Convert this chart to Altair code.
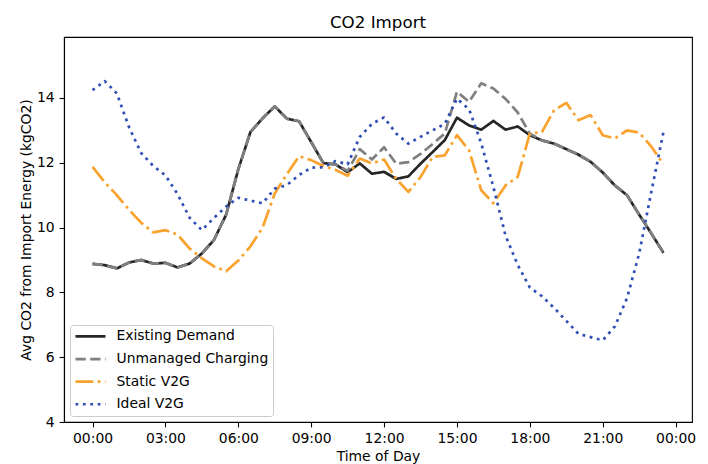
import altair as alt
import pandas as pd

# half-hour time points (hours of the day)
hours = [i * 0.5 for i in range(48)]

existing_demand = [8.88, 8.84, 8.74, 8.92, 9.00, 8.89, 8.91, 8.77, 8.89, 9.20,
                   9.62, 10.40, 11.80, 12.95, 13.37, 13.74, 13.36, 13.28, 12.64, 11.99,
                   11.95, 11.71, 11.98, 11.66, 11.72, 11.50, 11.58, 11.97, 12.33, 12.70,
                   13.39, 13.15, 13.02, 13.29, 13.02, 13.12, 12.85, 12.69, 12.59, 12.42,
                   12.25, 12.03, 11.70, 11.30, 11.00, 10.40, 9.82, 9.22]

unmanaged_charging = [8.88, 8.84, 8.74, 8.92, 9.00, 8.89, 8.91, 8.77, 8.89, 9.20,
                      9.62, 10.40, 11.80, 12.95, 13.37, 13.74, 13.36, 13.28, 12.64, 11.99,
                      11.95, 11.75, 12.42, 12.10, 12.48, 11.97, 12.02, 12.27, 12.58, 12.90,
                      14.19, 13.88, 14.45, 14.29, 13.97, 13.55, 12.90, 12.69, 12.59, 12.42,
                      12.25, 12.03, 11.70, 11.30, 11.00, 10.40, 9.82, 9.22]

static_v2g = [11.87, 11.40, 11.00, 10.55, 10.15, 9.85, 9.92, 9.78, 9.35, 9.05,
              8.80, 8.65, 8.98, 9.42, 10.00, 11.05, 11.65, 12.20, 12.08, 11.90,
              11.78, 11.60, 12.13, 11.98, 12.10, 11.50, 11.10, 11.56, 12.18, 12.23,
              12.85, 12.38, 11.15, 10.75, 11.30, 11.56, 12.90, 12.95, 13.62, 13.85,
              13.31, 13.47, 12.85, 12.75, 13.00, 12.93, 12.50, 11.95]

ideal_v2g = [14.24, 14.52, 14.14, 13.10, 12.30, 11.90, 11.61, 11.03, 10.30, 9.92,
             10.30, 10.65, 10.92, 10.83, 10.75, 11.20, 11.31, 11.62, 11.85, 11.86,
             12.05, 11.95, 12.80, 13.20, 13.40, 12.90, 12.59, 12.80, 13.00, 13.20,
             13.98, 13.65, 12.60, 11.25, 9.75, 8.85, 8.15, 7.88, 7.52, 7.12,
             6.72, 6.62, 6.52, 6.95, 7.82, 9.20, 11.10, 12.95]

series_names = ["Existing Demand", "Unmanaged Charging", "Static V2G", "Ideal V2G"]
series_values = [existing_demand, unmanaged_charging, static_v2g, ideal_v2g]
series_colors = ["#262626", "#808080", "#f9a22e", "#2f4fb4"]
series_dashes = [[1, 0], [10.3, 4.4], [17.8, 4.4, 2.8, 4.4], [2.8, 4.6]]

x_ticks = [0, 3, 6, 9, 12, 15, 18, 21, 24]
y_ticks = [4, 6, 8, 10, 12, 14]

rows = []
for name, vals in zip(series_names, series_values):
    for h, v in zip(hours, vals):
        rows.append({"series": name, "hour": h, "value": v})
df = pd.DataFrame(rows)

FONT = "DejaVu Sans"

legend = alt.Legend(
    title=None,
    orient="none",
    legendX=6,
    legendY=288,
    symbolType="M-1.49,0H6.01",
    symbolSize=64,
    symbolStrokeWidth=2.7,
    labelFontSize=13.9,
    labelFont=FONT,
    labelColor="black",
    labelOffset=28.1,
    labelLimit=300,
    rowPadding=7.6,
    padding=4.5,
    fillColor="rgba(255,255,255,0.8)",
    strokeColor="#cccccc",
    cornerRadius=3,
)

chart = alt.Chart(df).mark_line(strokeWidth=2.7, strokeCap="butt", strokeJoin="round").encode(
    x=alt.X(
        "hour:Q",
        scale=alt.Scale(domain=[-1.175, 24.675], nice=False, zero=False),
        axis=alt.Axis(
            values=x_ticks,
            labelExpr="(datum.value % 24 < 10 ? '0' : '') + (datum.value % 24) + ':00'",
            title="Time of Day",
            titlePadding=4,
            labelOverlap=False,
        ),
    ),
    y=alt.Y(
        "value:Q",
        scale=alt.Scale(domain=[4, 15.88], nice=False, zero=False),
        axis=alt.Axis(
            values=y_ticks,
            title="Avg CO2 from Import Energy (kgCO2)",
            titlePadding=3,
            labelOverlap=False,
        ),
    ),
    color=alt.Color("series:N", scale=alt.Scale(domain=series_names, range=series_colors), legend=legend),
    strokeDash=alt.StrokeDash("series:N", scale=alt.Scale(domain=series_names, range=series_dashes), legend=legend),
    detail="series:N",
).properties(
    width=628,
    height=385,
    title=alt.TitleParams(
        "CO2 Import", fontSize=16.7, font=FONT, fontWeight="normal", color="black",
        anchor="middle", baseline="alphabetic", offset=9, dy=17,
    ),
    padding={"left": 56, "top": 29, "right": 8, "bottom": 42},
    autosize=alt.AutoSizeParams(type="none"),
).configure_view(
    stroke="black", strokeWidth=1.1
).configure_axis(
    domainColor="black", domainWidth=1.1, tickColor="black", tickWidth=1.1, tickSize=4.9,
    labelPadding=4.9, labelFont=FONT, labelFontSize=13.9, labelColor="black",
    titleFont=FONT, titleFontSize=13.9, titleFontWeight="normal", titleColor="black", grid=False,
)

chart.save("out.html", embed_options={"renderer": "svg", "actions": False})
